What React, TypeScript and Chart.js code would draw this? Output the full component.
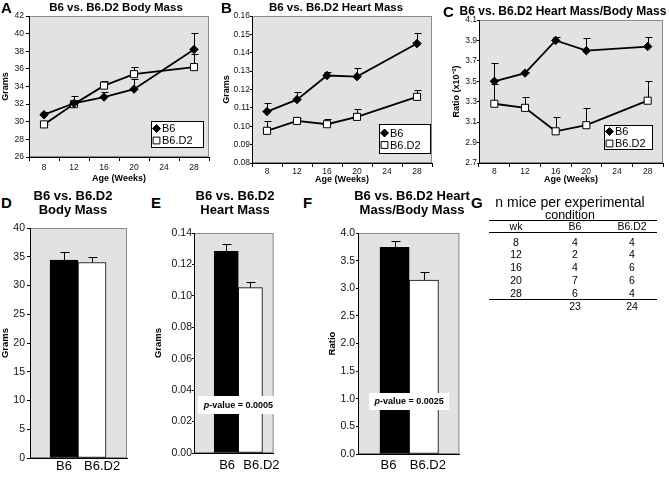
import React, { useEffect, useRef } from 'react';
import { Chart, registerables } from 'chart.js';

Chart.register(...registerables);

const FONT = "'Liberation Sans', Arial, Helvetica, sans-serif";
const PLOT_BG = '#e2e2e2';
const FRAME = '#8a8a8a';

// ---------------- data ----------------
const weeks = ['8', '12', '16', '20', '24', '28'];
const seriesNames = ['B6', 'B6.D2'];
const ageAxisTitle = 'Age (Weeks)';

const bodyMassB6 = [30.8, 32.1, 32.8, 33.7, null, 38.2];
const bodyMassB6Sem = [0.35, 0.8, 0.6, 1.1, null, 1.9];
const bodyMassD2 = [29.7, 32.0, 34.1, 35.4, null, 36.2];
const bodyMassD2Sem = [0.1, 0.5, 0.55, 0.8, null, 1.5];
const bodyMassTicks = [26, 28, 30, 32, 34, 36, 38, 40, 42];

const heartMassB6 = [0.108, 0.1145, 0.1276, 0.127, null, 0.145];
const heartMassB6Sem = [0.0044, 0.0043, 0.002, 0.0045, null, 0.0055];
const heartMassD2 = [0.0975, 0.1029, 0.1011, 0.1051, null, 0.116];
const heartMassD2Sem = [0.0052, 0.0018, 0.0031, 0.0044, null, 0.0036];
const heartMassTicks = [0.08, 0.09, 0.1, 0.11, 0.12, 0.13, 0.14, 0.15, 0.16];

const ratioB6 = [3.5, 3.58, 3.9, 3.8, null, 3.84];
const ratioB6Sem = [0.18, 0.01, 0.03, 0.12, null, 0.09];
const ratioD2 = [3.28, 3.24, 3.01, 3.07, null, 3.31];
const ratioD2Sem = [0.19, 0.11, 0.14, 0.17, null, 0.19];
const ratioTicks = [2.7, 2.9, 3.1, 3.3, 3.5, 3.7, 3.9, 4.1];

const groups = ['B6', 'B6.D2'];
const pooledBodyMass = [34.4, 34.0];
const pooledBodyMassSem = [1.35, 0.9];
const pooledHeartMass = [0.1284, 0.1052];
const pooledHeartMassSem = [0.0046, 0.0036];
const pooledRatio = [3.74, 3.15];
const pooledRatioSem = [0.11, 0.15];
const bodyBarTicks = [0, 5, 10, 15, 20, 25, 30, 35, 40];
const heartBarTicks = [0, 0.02, 0.04, 0.06, 0.08, 0.1, 0.12, 0.14];
const ratioBarTicks = [0, 0.5, 1, 1.5, 2, 2.5, 3, 3.5, 4];
const heartPValue = '0.0005';
const ratioPValue = '0.0025';

const tableTitle = ['n mice per experimental', 'condition'];
const tableHeader = ['wk', 'B6', 'B6.D2'];
const tableWeeks = ['8', '12', '16', '20', '28'];
const tableB6 = [4, 2, 4, 7, 6];
const tableD2 = [4, 4, 6, 6, 4];
const tableTotals = ['', '23', '24'];

// ---------------- helpers ----------------
const font = (size: number, weight: any = 'normal', style = 'normal') => ({ family: FONT, size, weight, style, lineHeight: 1.2 });

type Geo = { cx: number; cy: number; cw: number; ch: number; l: number; t: number; r: number; b: number };

const framePlugin = {
  id: 'frame',
  beforeDraw(chart: any) {
    const { ctx, chartArea: a } = chart;
    ctx.save();
    ctx.fillStyle = PLOT_BG;
    ctx.fillRect(a.left, a.top, a.right - a.left, a.bottom - a.top);
    ctx.strokeStyle = FRAME;
    ctx.lineWidth = 1;
    ctx.strokeRect(a.left + 0.5, a.top + 0.5, a.right - a.left - 1, a.bottom - a.top - 1);
    ctx.restore();
  },
};

function errorBarPlugin(phase: string, capHalf: number) {
  const draw = (chart: any) => {
    const { ctx } = chart;
    const yScale = chart.scales.y;
    ctx.save();
    ctx.strokeStyle = '#000';
    ctx.lineWidth = 1;
    chart.data.datasets.forEach((ds: any, di: number) => {
      const errs = ds.errors;
      if (!errs) return;
      const meta = chart.getDatasetMeta(di);
      meta.data.forEach((el: any, i: number) => {
        const raw = ds.data[i];
        const v = raw !== null && typeof raw === 'object' ? raw.y : raw;
        const e = errs[i];
        if (v == null || e == null) return;
        const x = Math.round(el.x) + 0.5;
        const y0 = yScale.getPixelForValue(v);
        const y1 = Math.round(yScale.getPixelForValue(v + e)) + 0.5;
        ctx.beginPath();
        ctx.moveTo(x, y0);
        ctx.lineTo(x, y1);
        ctx.moveTo(x - capHalf, y1);
        ctx.lineTo(x + capHalf + 1, y1);
        ctx.stroke();
      });
    });
    ctx.restore();
  };
  return phase === 'before'
    ? { id: 'errorBars', beforeDatasetsDraw: draw }
    : { id: 'errorBars', afterDatasetsDraw: draw };
}

function drawMarker(ctx: any, style: string, x: number, y: number, r: number, fill: string, stroke: string) {
  ctx.beginPath();
  if (style === 'rectRot') {
    ctx.moveTo(x, y - r);
    ctx.lineTo(x + r, y);
    ctx.lineTo(x, y + r);
    ctx.lineTo(x - r, y);
    ctx.closePath();
  } else {
    const h = r * Math.SQRT1_2;
    ctx.rect(x - h, y - h, 2 * h, 2 * h);
  }
  ctx.fillStyle = fill;
  ctx.fill();
  ctx.strokeStyle = stroke;
  ctx.lineWidth = 1;
  ctx.stroke();
}

function boxLegendPlugin(box: { right: number; bottom: number; width: number; height: number }) {
  return {
    id: 'boxLegend',
    afterDraw(chart: any) {
      const { ctx, chartArea: a } = chart;
      const x0 = Math.round(a.right - box.right - box.width);
      const y0 = Math.round(a.bottom - box.bottom - box.height);
      ctx.save();
      ctx.fillStyle = '#fff';
      ctx.fillRect(x0, y0, box.width, box.height);
      ctx.strokeStyle = '#000';
      ctx.lineWidth = 1;
      ctx.strokeRect(x0 + 0.5, y0 + 0.5, box.width - 1, box.height - 1);
      const gap = 12;
      const first = y0 + (box.height - gap) / 2;
      chart.data.datasets.forEach((ds: any, i: number) => {
        const cy = first + i * gap;
        drawMarker(ctx, ds.pointStyle, x0 + 5.5, cy, ds.pointStyle === 'rectRot' ? 4 : 4.8, ds.pointBackgroundColor, ds.pointBorderColor);
        ctx.font = `11px ${FONT}`;
        ctx.textBaseline = 'middle';
        ctx.textAlign = 'left';
        ctx.fillStyle = '#000';
        ctx.fillText(ds.label, x0 + 11, cy + 0.5);
      });
      ctx.restore();
    },
  };
}

function pValuePlugin(pv: string, box: { bottom: number; width: number; height: number }) {
  return {
    id: 'pValue',
    afterDatasetsDraw(chart: any) {
      const { ctx, chartArea: a } = chart;
      const meta = chart.getDatasetMeta(0);
      const cx = (meta.data[0].x + meta.data[1].x) / 2;
      const x0 = Math.round(cx - box.width / 2);
      const y0 = Math.round(a.bottom - box.bottom - box.height);
      ctx.save();
      ctx.fillStyle = '#fff';
      ctx.fillRect(x0, y0, box.width, box.height);
      const ital = `italic bold 9px ${FONT}`;
      const bold = `bold 9px ${FONT}`;
      const rest = '-value = ' + pv;
      ctx.font = ital;
      const w1 = ctx.measureText('p').width;
      ctx.font = bold;
      const w2 = ctx.measureText(rest).width;
      const tx = cx - (w1 + w2) / 2;
      const ty = y0 + box.height / 2 + 0.5;
      ctx.textBaseline = 'middle';
      ctx.textAlign = 'left';
      ctx.fillStyle = '#000';
      ctx.font = ital;
      ctx.fillText('p', tx, ty);
      ctx.font = bold;
      ctx.fillText(rest, tx + w1, ty);
      ctx.restore();
    },
  };
}

function yAxis(ticks: number[], fmt: (v: number) => string, title: string, o: any) {
  return {
    type: 'linear',
    position: 'left',
    min: ticks[0],
    max: ticks[ticks.length - 1],
    afterBuildTicks: (s: any) => {
      s.ticks = ticks.map((v) => ({ value: v }));
    },
    afterFit: (s: any) => {
      s.width = o.fit;
    },
    ticks: { autoSkip: false, font: font(o.tickFont), color: '#111', padding: o.tickPad, callback: (v: number) => fmt(v) },
    grid: { display: true, drawOnChartArea: false, drawTicks: true, tickLength: o.tickLen, color: '#000', lineWidth: 1 },
    border: { display: true, color: '#000', width: 1 },
    title: { display: true, text: title, color: '#000', font: font(o.titleFont, 'bold'), padding: { top: o.titlePad, bottom: 0 } },
  };
}

function weekAxis(o: any) {
  return {
    type: 'category',
    offset: true,
    afterFit: (s: any) => {
      s.height = o.fit;
    },
    ticks: { autoSkip: false, maxRotation: 0, font: font(8.5), color: '#111', padding: o.tickPad },
    grid: { display: true, offset: true, drawOnChartArea: false, drawTicks: true, tickLength: 4, color: '#000', lineWidth: 1 },
    border: { display: true, color: '#000', width: 1 },
    title: { display: true, text: ageAxisTitle, color: '#000', font: font(9, 'bold'), padding: { top: 0, bottom: o.titlePad } },
  };
}

function layoutFor(g: Geo) {
  return { padding: { left: 0, top: g.t - g.cy, right: g.cx + g.cw - g.r, bottom: 0 } };
}

function lineConfig(spec: any) {
  const g: Geo = spec.geo;
  const datasets = [
    {
      label: seriesNames[0], data: spec.b6, errors: spec.b6e,
      borderColor: '#000', backgroundColor: '#000', borderWidth: 1.8,
      pointStyle: 'rectRot', pointRadius: 4.2, pointBackgroundColor: '#000', pointBorderColor: '#000', pointBorderWidth: 1,
      spanGaps: true, tension: 0,
    },
    {
      label: seriesNames[1], data: spec.d2, errors: spec.d2e,
      borderColor: '#000', backgroundColor: '#fff', borderWidth: 1.8,
      pointStyle: 'rect', pointRadius: 5, pointBackgroundColor: '#fff', pointBorderColor: '#000', pointBorderWidth: 1,
      spanGaps: true, tension: 0,
    },
  ];
  return {
    type: 'line',
    data: { labels: weeks, datasets },
    options: {
      responsive: false,
      animation: false,
      events: [],
      layout: layoutFor(g),
      plugins: { legend: { display: false }, tooltip: { enabled: false }, title: { display: false } },
      scales: {
        x: weekAxis({ fit: g.cy + g.ch - g.b, tickPad: spec.xTickPad, titlePad: spec.xTitlePad }),
        y: yAxis(spec.ticks, spec.fmt, spec.yTitle, {
          fit: g.l - g.cx, tickFont: 8.5, tickPad: spec.yTickPad, tickLen: spec.yTickLen, titleFont: 9, titlePad: spec.yTitlePad,
        }),
      },
    },
    plugins: [framePlugin, errorBarPlugin('before', 3), boxLegendPlugin(spec.legend)],
  };
}

function barConfig(spec: any) {
  const g: Geo = spec.geo;
  const data = groups.map((name, i) => ({ x: i + 1, y: spec.values[i] }));
  return {
    type: 'bar',
    data: {
      datasets: [
        {
          label: spec.yTitle, data, errors: spec.errors,
          backgroundColor: ['#000', '#fff'], borderColor: '#000', borderWidth: 1, borderSkipped: false,
          barPercentage: 1, categoryPercentage: 1,
        },
      ],
    },
    options: {
      responsive: false,
      animation: false,
      events: [],
      layout: layoutFor(g),
      plugins: { legend: { display: false }, tooltip: { enabled: false }, title: { display: false } },
      scales: {
        x: {
          type: 'linear',
          offset: false,
          min: spec.xMin,
          max: spec.xMax,
          afterBuildTicks: (s: any) => {
            s.ticks = groups.map((_, i) => ({ value: i + 1 }));
          },
          afterFit: (s: any) => {
            s.height = g.cy + g.ch - g.b;
          },
          ticks: {
            autoSkip: false, maxRotation: 0, font: font(13), color: '#000', padding: spec.xTickPad,
            align: 'start', labelOffset: spec.labelOffset,
            callback: (v: number) => groups[v - 1] ?? '',
          },
          grid: { display: false, drawTicks: false, offset: false },
          border: { display: true, color: '#000', width: 1 },
        },
        y: yAxis(spec.ticks, spec.fmt, spec.yTitle, {
          fit: g.l - g.cx, tickFont: 10.5, tickPad: spec.yTickPad, tickLen: spec.yTickLen, titleFont: 9.5, titlePad: spec.yTitlePad,
        }),
      },
    },
    plugins: [framePlugin, errorBarPlugin('after', 4), ...(spec.pValue ? [pValuePlugin(spec.pValue, spec.pBox)] : [])],
  };
}

function ChartCanvas({ geo, make }: { geo: Geo; make: () => any }) {
  const ref = useRef<HTMLCanvasElement>(null);
  useEffect(() => {
    const chart = new Chart(ref.current as HTMLCanvasElement, make());
    return () => chart.destroy();
  }, []);
  return (
    <canvas
      ref={ref}
      width={geo.cw}
      height={geo.ch}
      style={{ position: 'absolute', left: geo.cx, top: geo.cy, width: geo.cw, height: geo.ch }}
    />
  );
}

function Label({ x, y, text, size, bold = false, lh }: { x: number; y: number; text: string; size: number; bold?: boolean; lh?: number }) {
  const h = lh ?? Math.round(size * 1.2);
  const w = 300;
  return (
    <div
      style={{
        position: 'absolute', left: x - w / 2, top: y - h / 2, width: w, height: h, lineHeight: `${h}px`,
        fontSize: size, fontWeight: bold ? 700 : 400, textAlign: 'center', whiteSpace: 'nowrap', color: '#000', fontFamily: FONT,
      }}
    >
      {text}
    </div>
  );
}

function Letter({ x, y, text }: { x: number; y: number; text: string }) {
  return (
    <div style={{ position: 'absolute', left: x, top: y, fontSize: 15, lineHeight: '15px', fontWeight: 700, fontFamily: FONT, color: '#000' }}>
      {text}
    </div>
  );
}

// ---------------- geometry ----------------
const geoA: Geo = { cx: 0, cy: 0, cw: 220, ch: 190, l: 29, t: 16, r: 209, b: 157 };
const geoB: Geo = { cx: 220, cy: 0, cw: 222, ch: 190, l: 252, t: 16, r: 432, b: 163 };
const geoC: Geo = { cx: 442, cy: 0, cw: 227, ch: 190, l: 479, t: 20, r: 667, b: 163 };
const geoD: Geo = { cx: 0, cy: 218, cw: 140, ch: 259, l: 30, t: 228, r: 127, b: 458 };
const geoE: Geo = { cx: 150, cy: 218, cw: 145, ch: 259, l: 194, t: 233, r: 283, b: 453 };
const geoF: Geo = { cx: 300, cy: 218, cw: 165, ch: 259, l: 358, t: 233, r: 462, b: 454 };

const colTemplate = '54px 64px 50px';

export default function App() {
  return (
    <div style={{ position: 'fixed', left: 0, top: 0, width: 669, height: 477, background: '#fff', overflow: 'hidden', fontFamily: FONT }}>
      <ChartCanvas
        geo={geoA}
        make={() =>
          lineConfig({
            geo: geoA, b6: bodyMassB6, b6e: bodyMassB6Sem, d2: bodyMassD2, d2e: bodyMassD2Sem,
            ticks: bodyMassTicks, fmt: (v: number) => String(v), yTitle: 'Grams',
            xTickPad: 2, xTitlePad: 6, yTickPad: 2, yTickLen: 3, yTitlePad: 0,
            legend: { right: 5, bottom: 9, width: 53, height: 27 },
          })
        }
      />
      <ChartCanvas
        geo={geoB}
        make={() =>
          lineConfig({
            geo: geoB, b6: heartMassB6, b6e: heartMassB6Sem, d2: heartMassD2, d2e: heartMassD2Sem,
            ticks: heartMassTicks, fmt: (v: number) => v.toFixed(2), yTitle: 'Grams',
            xTickPad: 0, xTitlePad: 4.6, yTickPad: 0, yTickLen: 2, yTitlePad: 1.6,
            legend: { right: 1, bottom: 9, width: 52, height: 30 },
          })
        }
      />
      <ChartCanvas
        geo={geoC}
        make={() =>
          lineConfig({
            geo: geoC, b6: ratioB6, b6e: ratioB6Sem, d2: ratioD2, d2e: ratioD2Sem,
            ticks: ratioTicks, fmt: (v: number) => v.toFixed(1), yTitle: 'Ratio (x10\u207B\u00B3)',
            xTickPad: 0, xTitlePad: 4.6, yTickPad: 0, yTickLen: 2, yTitlePad: 9.6,
            legend: { right: 10, bottom: 13, width: 49, height: 25 },
          })
        }
      />
      <ChartCanvas
        geo={geoD}
        make={() =>
          barConfig({
            geo: geoD, values: pooledBodyMass, errors: pooledBodyMassSem, ticks: bodyBarTicks,
            fmt: (v: number) => String(v), yTitle: 'Grams', xMin: -0.2143, xMax: 3.25,
            xTickPad: 0.5, labelOffset: -8, yTickPad: 2, yTickLen: 3, yTitlePad: 0,
          })
        }
      />
      <ChartCanvas
        geo={geoE}
        make={() =>
          barConfig({
            geo: geoE, values: pooledHeartMass, errors: pooledHeartMassSem, ticks: heartBarTicks,
            fmt: (v: number) => v.toFixed(2), yTitle: 'Grams', xMin: -0.333, xMax: 2.963,
            xTickPad: 5, labelOffset: -7, yTickPad: 0, yTickLen: 2, yTitlePad: 2.3,
            pValue: heartPValue, pBox: { bottom: 39, width: 81, height: 18 },
          })
        }
      />
      <ChartCanvas
        geo={geoF}
        make={() =>
          barConfig({
            geo: geoF, values: pooledRatio, errors: pooledRatioSem, ticks: ratioBarTicks,
            fmt: (v: number) => v.toFixed(1), yTitle: 'Ratio', xMin: -0.25, xMax: 3.217,
            xTickPad: 4, labelOffset: -14, yTickPad: 1, yTickLen: 2, yTitlePad: 27,
            pValue: ratioPValue, pBox: { bottom: 44, width: 80, height: 17 },
          })
        }
      />

      {/* panel letters */}
      <Letter x={1} y={0} text="A" />
      <Letter x={221} y={0} text="B" />
      <Letter x={443} y={4} text="C" />
      <Letter x={1} y={195} text="D" />
      <Letter x={151} y={195} text="E" />
      <Letter x={303} y={195} text="F" />
      <Letter x={471} y={195} text="G" />

      {/* titles */}
      <Label x={116} y={7} text="B6 vs. B6.D2 Body Mass" size={11.5} bold />
      <Label x={336} y={7} text="B6 vs. B6.D2 Heart Mass" size={11.5} bold />
      <Label x={563} y={11} text="B6 vs. B6.D2 Heart Mass/Body Mass" size={12} bold />
      <Label x={73} y={196} text="B6 vs. B6.D2" size={13} bold />
      <Label x={73} y={210} text="Body Mass" size={13} bold />
      <Label x={235} y={196} text="B6 vs. B6.D2" size={13} bold />
      <Label x={235} y={210} text="Heart Mass" size={13} bold />
      <Label x={412} y={196} text="B6 vs. B6.D2 Heart" size={13} bold />
      <Label x={412} y={210} text="Mass/Body Mass" size={13} bold />

      {/* table G */}
      <Label x={570} y={202} text={tableTitle[0]} size={14} />
      <Label x={570} y={215} text={tableTitle[1]} size={12.5} />
      <div style={{ position: 'absolute', left: 489, top: 220, width: 168, fontSize: 10.5, color: '#000', fontFamily: FONT }}>
        <div
          style={{
            borderTop: '1.5px solid #000', borderBottom: '1px solid #000', display: 'grid', gridTemplateColumns: colTemplate,
            height: 11, lineHeight: '11px', textAlign: 'center',
          }}
        >
          {tableHeader.map((h) => (
            <div key={h}>{h}</div>
          ))}
        </div>
        <div style={{ paddingTop: 2.5, borderBottom: '1.5px solid #000' }}>
          {tableWeeks.map((wk, i) => (
            <div key={wk} style={{ display: 'grid', gridTemplateColumns: colTemplate, height: 12.8, lineHeight: '12.8px', textAlign: 'center' }}>
              <div>{wk}</div>
              <div>{tableB6[i]}</div>
              <div>{tableD2[i]}</div>
            </div>
          ))}
        </div>
        <div style={{ display: 'grid', gridTemplateColumns: colTemplate, height: 13, lineHeight: '13px', textAlign: 'center' }}>
          {tableTotals.map((t, i) => (
            <div key={i}>{t}</div>
          ))}
        </div>
      </div>
    </div>
  );
}
